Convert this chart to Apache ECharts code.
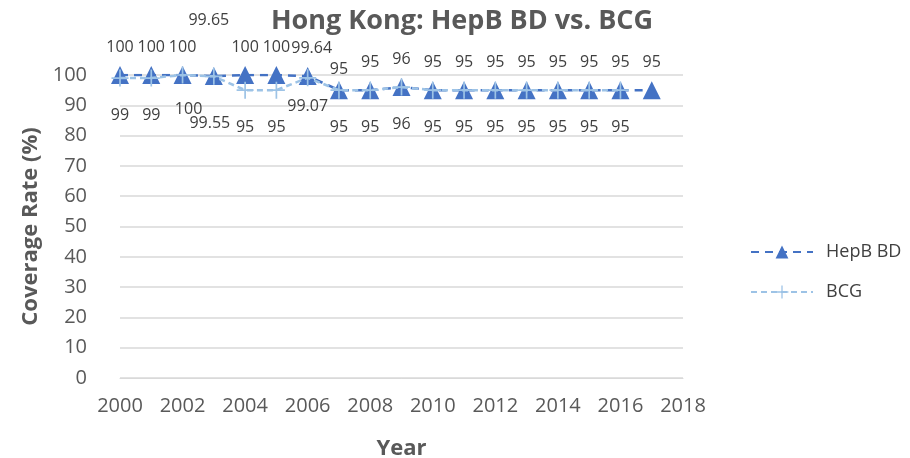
<!DOCTYPE html>
<html>
<head>
<meta charset="utf-8">
<title>Hong Kong: HepB BD vs. BCG</title>
<script src="https://cdn.jsdelivr.net/npm/echarts@6/dist/echarts.min.js"></script>
<style>
body{margin:0;background:#fff;}
#main{width:910px;height:458px;}
</style>
</head>
<body>
<div id="main"></div>
<script>
var years = [2000,2001,2002,2003,2004,2005,2006,2007,2008,2009,2010,2011,2012,2013,2014,2015,2016,2017];
var hepb = [100,100,100,99.65,100,100,99.64,95,95,96,95,95,95,95,95,95,95,95];
var bcg  = [99,99,100,99.55,95,95,99.07,95,95,96,95,95,95,95,95,95,95];

var plusPath = 'path://M9,0h2v9h9v2h-9v9h-2v-9h-9v-2h9z';
var fnt = '"Open Sans", sans-serif';

function pairs(vals){
	var out = [];
	for (var i = 0; i < vals.length; i++) out.push([years[i], vals[i]]);
	return out;
}

var hepbData = pairs(hepb);
// 2003 label sits higher, with a leader line in the original
hepbData[3] = {value: hepbData[3], label: {offset: [-5, -28]}};
hepbData[6] = {value: hepbData[6], label: {offset: [4, 0]}};
hepbData[7] = {value: hepbData[7], label: {distance: 4}};
var bcgData = pairs(bcg);
bcgData[2] = {value: bcgData[2], label: {offset: [6, -3]}};
bcgData[3] = {value: bcgData[3], label: {offset: [-4, 10]}};
bcgData[6] = {value: bcgData[6], label: {distance: 12}};

var myChart = echarts.init(document.getElementById('main'));
var option = {
	animation: false,
	textStyle: {fontFamily: fnt},
	title: {
		text: 'Hong Kong: HepB BD vs. BCG',
		left: 457, top: 3, textAlign: 'center',
		textStyle: {fontSize: 27, fontWeight: 'bold', color: '#595959', fontFamily: fnt}
	},
	legend: {
		orient: 'vertical', left: 745, top: 238, itemGap: 22,
		itemWidth: 62, itemHeight: 16,
		textStyle: {fontSize: 18, color: '#404040', fontFamily: fnt, padding: [0, 0, 0, 8]},
		data: ['HepB BD', 'BCG']
	},
	grid: {left: 120, right: 227, top: 75, bottom: 80, containLabel: false, outerBoundsMode: 'none'},
	xAxis: {
		type: 'value', min: 2000, max: 2018, interval: 2,
		name: 'Year', nameLocation: 'middle', nameGap: 60,
		nameTextStyle: {fontSize: 22, fontWeight: 'bold', color: '#595959'},
		axisLine: {lineStyle: {color: '#d9d9d9'}},
		axisTick: {show: false},
		axisLabel: {fontSize: 20, color: '#595959', margin: 18, formatter: function(v){ return String(v); }},
		splitLine: {show: false}
	},
	yAxis: {
		type: 'value', min: 0, max: 100, interval: 10,
		name: 'Coverage Rate (%)', nameLocation: 'middle', nameGap: 74,
		nameTextStyle: {fontSize: 22, fontWeight: 'bold', color: '#595959'},
		axisLine: {show: false},
		axisTick: {show: false},
		axisLabel: {fontSize: 20, color: '#595959', margin: 33},
		splitLine: {lineStyle: {color: '#d9d9d9', width: 1.5}}
	},
	series: [
		{
			name: 'HepB BD', type: 'line', data: hepbData,
			symbol: 'triangle', symbolSize: 18,
			lineStyle: {color: '#4472c4', width: 2.5, type: [8, 6]},
			itemStyle: {color: '#4472c4'},
			label: {show: true, position: 'top', distance: 11, fontSize: 16, color: '#404040'},
			z: 2
		},
		{
			name: 'BCG', type: 'line', data: bcgData,
			symbol: plusPath, symbolSize: 17,
			lineStyle: {color: '#9dc3e6', width: 2.5, type: [6, 4]},
			itemStyle: {color: '#9dc3e6'},
			label: {show: true, position: 'bottom', distance: 21, fontSize: 16, color: '#404040'},
			z: 3
		}
	]
};
myChart.setOption(option);
</script>
</body>
</html>
